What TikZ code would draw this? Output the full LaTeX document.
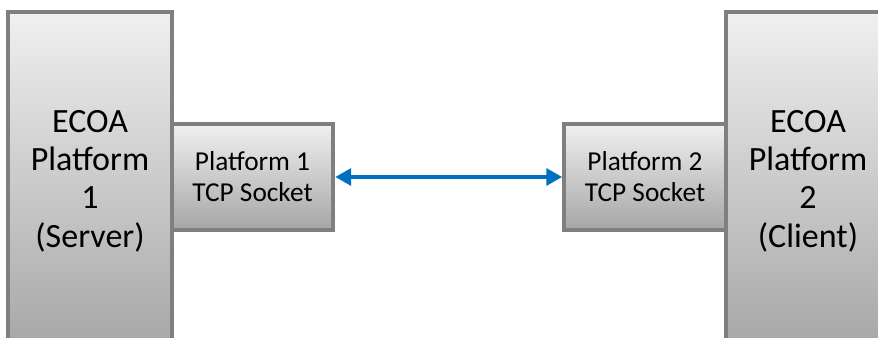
\documentclass[tikz,border=0pt]{standalone}
\usepackage{fontspec}
\setmainfont{Carlito}
\usepackage{xcolor}
\definecolor{colorBorder}{HTML}{7F7F7F}
\definecolor{colorTop}{HTML}{F0F0F0}
\definecolor{colorBottom}{HTML}{A6A6A6}
\definecolor{colorLink}{HTML}{0070C0}
\usetikzlibrary{arrows.meta, positioning}
\tikzset{
  block/.style={rectangle, draw=colorBorder, line width=3pt, top color=colorTop, bottom color=colorBottom, align=center, inner sep=0pt},
  platform/.style={block, minimum width=123pt, minimum height=253.5pt, font=\fontsize{25.5}{28.8}\selectfont},
  socket/.style={block, minimum width=121pt, minimum height=79.5pt, font=\fontsize{20.5}{23.3}\selectfont},
  link/.style={colorLink, line width=3.2pt, {Triangle[length=12pt,width=12.5pt]}-{Triangle[length=12pt,width=12.5pt]}}
}

\begin{document}
\begin{tikzpicture}[x=0.75pt, y=-0.75pt]
\useasboundingbox (0,0) rectangle (878,338);
\clip (0,0) rectangle (878,338);
\node[socket] (sock1) at (252.5,177) {Platform 1\\TCP Socket};
\node[socket] (sock2) at (645,177) {Platform 2\\TCP Socket};
\node[platform] (srv) at (90,181) {ECOA\\Platform\\1\\(Server)};
\node[platform] (cli) at (808,181) {ECOA\\Platform\\2\\(Client)};
\draw[link] (sock1) -- (sock2);
\end{tikzpicture}
\end{document}
